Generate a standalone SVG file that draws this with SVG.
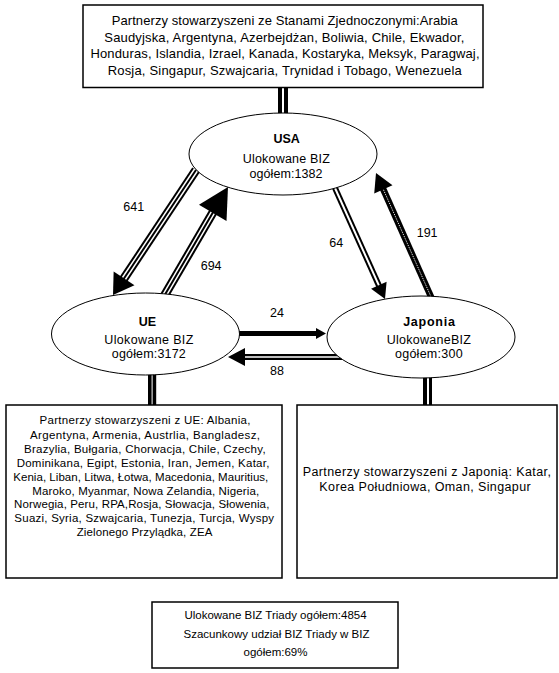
<svg xmlns="http://www.w3.org/2000/svg" width="559" height="673" viewBox="0 0 559 673">
<style>
text{font-family:"Liberation Sans",Arial,sans-serif;fill:#000}
.box{fill:#fff;stroke:#000;stroke-width:1.5}
.ell{fill:#fff;stroke:#000;stroke-width:1}
.t13{font-size:13px;text-anchor:middle}
.t12{font-size:12.5px;text-anchor:middle}
.t11{font-size:11.5px;text-anchor:middle}
.b{font-weight:bold}
.lbl{font-size:12.5px}
.blk{stroke:#000;fill:none}
.wht{stroke:#fff;fill:none}
</style>
<rect width="559" height="673" fill="#fff"/>
<g id="connectors">
  <!-- double bars -->
  <rect x="278" y="87" width="4" height="30" fill="#000"/>
  <rect x="284" y="87" width="4" height="30" fill="#000"/>
  <rect x="148" y="372" width="3.6" height="33" fill="#000"/>
  <rect x="152.6" y="372" width="3.6" height="33" fill="#000"/>
  <rect x="423" y="374" width="4" height="31" fill="#000"/>
  <rect x="429" y="374" width="3" height="31" fill="#000"/>
  <!-- 641: USA -> UE -->
  <g id="a641">
    <line class="blk" x1="196" y1="170" x2="122.95" y2="280" stroke-width="9"/>
    <line class="wht" x1="196" y1="170" x2="122.95" y2="280" stroke-width="5"/>
    <line class="blk" x1="196" y1="170" x2="122.95" y2="280" stroke-width="2"/>
    <polygon points="113,295 134.47,285.25 113.65,271.43" fill="#000"/>
  </g>
  <!-- 694: UE -> USA -->
  <g id="a694">
    <line class="blk" x1="163" y1="298" x2="213.76" y2="211.1" stroke-width="9"/>
    <line class="wht" x1="163" y1="298" x2="213.76" y2="211.1" stroke-width="5"/>
    <line class="blk" x1="163" y1="298" x2="213.76" y2="211.1" stroke-width="2"/>
    <polygon points="228,187 226.51,220.97 198.97,204.69" fill="#000"/>
  </g>
  <!-- 64: USA -> Japonia -->
  <g id="a64">
    <line class="blk" x1="335" y1="188" x2="379.66" y2="287.15" stroke-width="6"/>
    <line class="wht" x1="335" y1="188" x2="379.66" y2="287.15" stroke-width="2"/>
    <polygon points="385,299 386.59,281.83 371.09,288.81" fill="#000"/>
  </g>
  <!-- 191: Japonia -> USA -->
  <g id="a191">
    <line class="blk" x1="432" y1="299" x2="382.53" y2="187.61" stroke-width="6.5"/>
    <line class="wht" x1="432" y1="299" x2="382.53" y2="187.61" stroke-width="1" stroke-dasharray="1 1"/>
    <polygon points="376,173 392.48,185.35 374.22,193.51" fill="#000"/>
  </g>
  <!-- 24: UE -> Japonia -->
  <g id="a24">
    <line class="blk" x1="236" y1="333.5" x2="318" y2="333.5" stroke-width="5"/>
    <polygon points="326,333.5 316,328 316,339" fill="#000"/>
  </g>
  <!-- 88: Japonia -> UE -->
  <g id="a88">
    <line class="blk" x1="342" y1="357" x2="243" y2="357" stroke-width="6"/>
    <line class="wht" x1="342" y1="357" x2="243" y2="357" stroke-width="1.3"/>
    <polygon points="228,357 245,348 245,366" fill="#000"/>
  </g>
  <text class="lbl" x="123.3" y="210.7">641</text>
  <text class="lbl" x="200.7" y="270">694</text>
  <text class="lbl" x="329.3" y="246.7">64</text>
  <text class="lbl" x="416.7" y="236.7">191</text>
  <text class="lbl" x="270" y="316.7">24</text>
  <text class="lbl" x="270" y="375">88</text>
</g>
<g id="node-usa-partners">
  <rect class="box" x="83" y="5" width="400" height="82.5"/>
  <text class="t13" x="284.7" y="25" textLength="346" lengthAdjust="spacing">Partnerzy stowarzyszeni ze Stanami Zjednoczonymi:Arabia</text>
  <text class="t13" x="284.3" y="41.5" textLength="360" lengthAdjust="spacing">Saudyjska, Argentyna, Azerbejdżan, Boliwia, Chile, Ekwador,</text>
  <text class="t13" x="285" y="58" textLength="389" lengthAdjust="spacing">Honduras, Islandia, Izrael, Kanada, Kostaryka, Meksyk, Paragwaj,</text>
  <text class="t13" x="284.7" y="74.5" textLength="354" lengthAdjust="spacing">Rosja, Singapur, Szwajcaria, Trynidad i Tobago, Wenezuela</text>
</g>
<g id="node-usa">
  <ellipse class="ell" cx="283" cy="154" rx="94" ry="41"/>
  <text class="t12 b" x="286.7" y="143.3">USA</text>
  <text class="t12" x="286.3" y="163.3" textLength="87" lengthAdjust="spacing">Ulokowane BIZ</text>
  <text class="t12" x="286" y="178" textLength="73" lengthAdjust="spacing">ogółem:1382</text>
</g>
<g id="node-ue">
  <ellipse class="ell" cx="145.5" cy="334" rx="94" ry="41"/>
  <text class="t12 b" x="147.5" y="325.7">UE</text>
  <text class="t12" x="148.8" y="344" textLength="89" lengthAdjust="spacing">Ulokowane BIZ</text>
  <text class="t12" x="148.8" y="358.3" textLength="74" lengthAdjust="spacing">ogółem:3172</text>
</g>
<g id="node-japonia">
  <ellipse class="ell" cx="421" cy="337" rx="94" ry="41"/>
  <text class="t12 b" x="429" y="325.7" textLength="51.7" lengthAdjust="spacing">Japonia</text>
  <text class="t12" x="428.8" y="344" textLength="84.3" lengthAdjust="spacing">UlokowaneBIZ</text>
  <text class="t12" x="428.8" y="358.3" textLength="67.7" lengthAdjust="spacing">ogółem:300</text>
</g>
<g id="node-ue-partners">
  <rect class="box" x="6" y="405" width="276" height="173"/>
  <text class="t11" x="145" y="424.3" textLength="211" lengthAdjust="spacing">Partnerzy stowarzyszeni z UE: Albania,</text>
  <text class="t11" x="145" y="438.5" textLength="230" lengthAdjust="spacing">Argentyna, Armenia, Austrlia, Bangladesz,</text>
  <text class="t11" x="144.8" y="452.7" textLength="241.7" lengthAdjust="spacing">Brazylia, Bułgaria, Chorwacja, Chile, Czechy,</text>
  <text class="t11" x="143" y="466.7" textLength="252.7" lengthAdjust="spacing">Dominikana, Egipt, Estonia, Iran, Jemen, Katar,</text>
  <text class="t11" x="140.8" y="480.7" textLength="255" lengthAdjust="spacing">Kenia, Liban, Litwa, Łotwa, Macedonia, Mauritius,</text>
  <text class="t11" x="145.8" y="494.5" textLength="227" lengthAdjust="spacing">Maroko, Myanmar, Nowa Zelandia, Nigeria,</text>
  <text class="t11" x="141.7" y="508.4" textLength="255.3" lengthAdjust="spacing">Norwegia, Peru, RPA,Rosja, Słowacja, Słowenia,</text>
  <text class="t11" x="144.2" y="522.3" textLength="259.7" lengthAdjust="spacing">Suazi, Syria, Szwajcaria, Tunezja, Turcja, Wyspy</text>
  <text class="t11" x="144.5" y="536.2" textLength="135.7" lengthAdjust="spacing">Zielonego Przylądka, ZEA</text>
</g>
<g id="node-japonia-partners">
  <rect class="box" x="297" y="405" width="260" height="173"/>
  <text class="t12" x="426.8" y="476" textLength="248.3" lengthAdjust="spacing">Partnerzy stowarzyszeni z Japonią: Katar,</text>
  <text class="t12" x="425" y="490.7" textLength="211.3" lengthAdjust="spacing">Korea Południowa, Oman, Singapur</text>
</g>
<g id="node-triada">
  <rect class="box" x="152" y="602" width="246" height="66" stroke-width="2"/>
  <text class="t11" x="275.5" y="618.5">Ulokowane BIZ Triady ogółem:4854</text>
  <text class="t11" x="276.5" y="637.5">Szacunkowy udział BIZ Triady w BIZ</text>
  <text class="t11" x="275.5" y="655.5">ogółem:69%</text>
</g>
</svg>
